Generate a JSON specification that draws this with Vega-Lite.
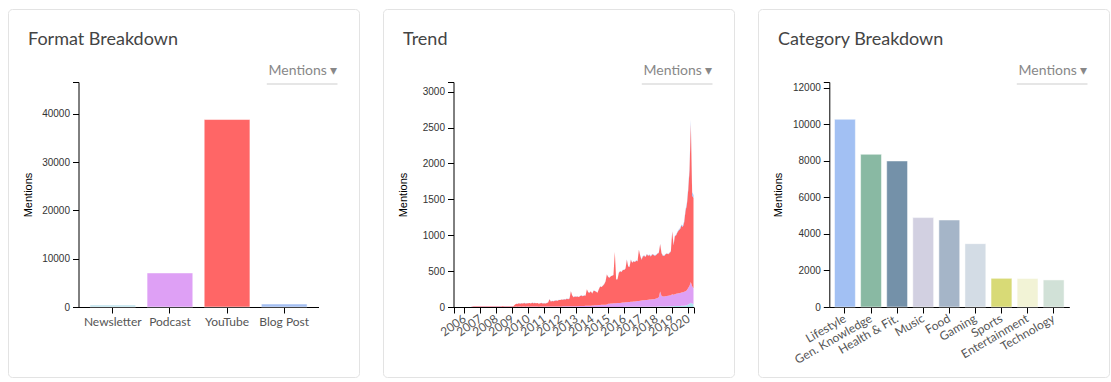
{
  "$schema": "https://vega.github.io/schema/vega-lite/v6.json",
  "padding": {"left": 7, "top": 8, "right": 0, "bottom": 0},
  "spacing": 22,
  "background": "white",
  "resolve": {"scale": {"color": "independent"}},
  "config": {
    "view": {"stroke": "#e3e3e3", "strokeWidth": 1, "cornerRadius": 4},
    "axis": {"grid": false, "domainColor": "#000", "tickColor": "#000", "tickSize": 6, "labelFont": "Liberation Sans", "labelFontSize": 10, "labelColor": "#333", "labelPadding": 3, "titleFont": "Liberation Sans", "titleFontSize": 11, "titleFontWeight": "normal", "titleColor": "#000"},
    "title": {"font": "Lato", "fontSize": 18, "fontWeight": "normal", "color": "#444", "anchor": "start", "frame": "group", "baseline": "alphabetic", "offset": -40, "dx": 20}
  },
  "datasets": {
    "formats": [
      {"format": "Newsletter", "Mentions": 420},
      {"format": "Podcast", "Mentions": 7050},
      {"format": "YouTube", "Mentions": 38830},
      {"format": "Blog Post", "Mentions": 620}
    ],
    "categories": [
      {"category": "Lifestyle", "Mentions": 10270},
      {"category": "Gen. Knowledge", "Mentions": 8355},
      {"category": "Health & Fit.", "Mentions": 7990},
      {"category": "Music", "Mentions": 4890},
      {"category": "Food", "Mentions": 4760},
      {"category": "Gaming", "Mentions": 3465},
      {"category": "Sports", "Mentions": 1570},
      {"category": "Entertainment", "Mentions": 1560},
      {"category": "Technology", "Mentions": 1480}
    ],
    "trend": [
      {"date":"2005-05-01","Newsletter":0,"Podcast":0,"YouTube":0,"Blog Post":0},
      {"date":"2005-06-01","Newsletter":0,"Podcast":0,"YouTube":0,"Blog Post":0},
      {"date":"2005-07-01","Newsletter":0,"Podcast":0,"YouTube":1,"Blog Post":0},
      {"date":"2005-08-01","Newsletter":0,"Podcast":0,"YouTube":0,"Blog Post":0},
      {"date":"2005-09-01","Newsletter":0,"Podcast":0,"YouTube":1,"Blog Post":0},
      {"date":"2005-10-01","Newsletter":0,"Podcast":0,"YouTube":0,"Blog Post":0},
      {"date":"2005-11-01","Newsletter":0,"Podcast":0,"YouTube":0,"Blog Post":0},
      {"date":"2005-12-01","Newsletter":0,"Podcast":0,"YouTube":1,"Blog Post":0},
      {"date":"2006-01-01","Newsletter":0,"Podcast":0,"YouTube":0,"Blog Post":0},
      {"date":"2006-02-01","Newsletter":0,"Podcast":0,"YouTube":1,"Blog Post":0},
      {"date":"2006-03-01","Newsletter":0,"Podcast":0,"YouTube":0,"Blog Post":0},
      {"date":"2006-04-01","Newsletter":0,"Podcast":0,"YouTube":1,"Blog Post":0},
      {"date":"2006-05-01","Newsletter":0,"Podcast":0,"YouTube":1,"Blog Post":0},
      {"date":"2006-06-01","Newsletter":0,"Podcast":0,"YouTube":0,"Blog Post":0},
      {"date":"2006-07-01","Newsletter":0,"Podcast":3,"YouTube":4,"Blog Post":0},
      {"date":"2006-08-01","Newsletter":0,"Podcast":4,"YouTube":5,"Blog Post":1},
      {"date":"2006-09-01","Newsletter":0,"Podcast":3,"YouTube":6,"Blog Post":0},
      {"date":"2006-10-01","Newsletter":0,"Podcast":4,"YouTube":5,"Blog Post":1},
      {"date":"2006-11-01","Newsletter":0,"Podcast":4,"YouTube":6,"Blog Post":0},
      {"date":"2006-12-01","Newsletter":0,"Podcast":5,"YouTube":6,"Blog Post":1},
      {"date":"2007-01-01","Newsletter":0,"Podcast":4,"YouTube":6,"Blog Post":1},
      {"date":"2007-02-01","Newsletter":0,"Podcast":5,"YouTube":7,"Blog Post":1},
      {"date":"2007-03-01","Newsletter":0,"Podcast":4,"YouTube":6,"Blog Post":1},
      {"date":"2007-04-01","Newsletter":0,"Podcast":5,"YouTube":7,"Blog Post":1},
      {"date":"2007-05-01","Newsletter":0,"Podcast":4,"YouTube":6,"Blog Post":1},
      {"date":"2007-06-01","Newsletter":0,"Podcast":5,"YouTube":7,"Blog Post":1},
      {"date":"2007-07-01","Newsletter":0,"Podcast":5,"YouTube":6,"Blog Post":1},
      {"date":"2007-08-01","Newsletter":0,"Podcast":4,"YouTube":7,"Blog Post":1},
      {"date":"2007-09-01","Newsletter":0,"Podcast":5,"YouTube":6,"Blog Post":1},
      {"date":"2007-10-01","Newsletter":0,"Podcast":5,"YouTube":7,"Blog Post":1},
      {"date":"2007-11-01","Newsletter":0,"Podcast":4,"YouTube":6,"Blog Post":1},
      {"date":"2007-12-01","Newsletter":0,"Podcast":5,"YouTube":7,"Blog Post":1},
      {"date":"2008-01-01","Newsletter":0,"Podcast":5,"YouTube":7,"Blog Post":1},
      {"date":"2008-02-01","Newsletter":0,"Podcast":4,"YouTube":6,"Blog Post":1},
      {"date":"2008-03-01","Newsletter":0,"Podcast":5,"YouTube":7,"Blog Post":1},
      {"date":"2008-04-01","Newsletter":0,"Podcast":5,"YouTube":7,"Blog Post":1},
      {"date":"2008-05-01","Newsletter":0,"Podcast":4,"YouTube":6,"Blog Post":1},
      {"date":"2008-06-01","Newsletter":0,"Podcast":5,"YouTube":8,"Blog Post":1},
      {"date":"2008-07-01","Newsletter":0,"Podcast":5,"YouTube":7,"Blog Post":1},
      {"date":"2008-08-01","Newsletter":0,"Podcast":4,"YouTube":6,"Blog Post":1},
      {"date":"2008-09-01","Newsletter":0,"Podcast":5,"YouTube":7,"Blog Post":1},
      {"date":"2008-10-01","Newsletter":0,"Podcast":4,"YouTube":7,"Blog Post":1},
      {"date":"2008-11-01","Newsletter":0,"Podcast":5,"YouTube":6,"Blog Post":1},
      {"date":"2008-12-01","Newsletter":0,"Podcast":5,"YouTube":7,"Blog Post":1},
      {"date":"2009-01-01","Newsletter":0,"Podcast":5,"YouTube":7,"Blog Post":1},
      {"date":"2009-02-01","Newsletter":0,"Podcast":5,"YouTube":8,"Blog Post":1},
      {"date":"2009-03-01","Newsletter":0,"Podcast":5,"YouTube":25,"Blog Post":1},
      {"date":"2009-04-01","Newsletter":0,"Podcast":6,"YouTube":40,"Blog Post":1},
      {"date":"2009-05-01","Newsletter":0,"Podcast":5,"YouTube":38,"Blog Post":2},
      {"date":"2009-06-01","Newsletter":0,"Podcast":6,"YouTube":45,"Blog Post":2},
      {"date":"2009-07-01","Newsletter":0,"Podcast":6,"YouTube":40,"Blog Post":2},
      {"date":"2009-08-01","Newsletter":0,"Podcast":5,"YouTube":48,"Blog Post":2},
      {"date":"2009-09-01","Newsletter":0,"Podcast":6,"YouTube":42,"Blog Post":2},
      {"date":"2009-10-01","Newsletter":0,"Podcast":6,"YouTube":50,"Blog Post":2},
      {"date":"2009-11-01","Newsletter":0,"Podcast":5,"YouTube":44,"Blog Post":2},
      {"date":"2009-12-01","Newsletter":0,"Podcast":6,"YouTube":47,"Blog Post":2},
      {"date":"2010-01-01","Newsletter":0,"Podcast":6,"YouTube":45,"Blog Post":2},
      {"date":"2010-02-01","Newsletter":0,"Podcast":5,"YouTube":50,"Blog Post":2},
      {"date":"2010-03-01","Newsletter":0,"Podcast":6,"YouTube":42,"Blog Post":2},
      {"date":"2010-04-01","Newsletter":0,"Podcast":7,"YouTube":52,"Blog Post":2},
      {"date":"2010-05-01","Newsletter":0,"Podcast":6,"YouTube":46,"Blog Post":2},
      {"date":"2010-06-01","Newsletter":0,"Podcast":6,"YouTube":50,"Blog Post":2},
      {"date":"2010-07-01","Newsletter":0,"Podcast":7,"YouTube":44,"Blog Post":2},
      {"date":"2010-08-01","Newsletter":0,"Podcast":6,"YouTube":48,"Blog Post":2},
      {"date":"2010-09-01","Newsletter":0,"Podcast":5,"YouTube":40,"Blog Post":2},
      {"date":"2010-10-01","Newsletter":0,"Podcast":6,"YouTube":45,"Blog Post":2},
      {"date":"2010-11-01","Newsletter":0,"Podcast":7,"YouTube":50,"Blog Post":2},
      {"date":"2010-12-01","Newsletter":0,"Podcast":6,"YouTube":44,"Blog Post":2},
      {"date":"2011-01-01","Newsletter":0,"Podcast":7,"YouTube":45,"Blog Post":2},
      {"date":"2011-02-01","Newsletter":0,"Podcast":6,"YouTube":42,"Blog Post":2},
      {"date":"2011-03-01","Newsletter":0,"Podcast":7,"YouTube":50,"Blog Post":2},
      {"date":"2011-04-01","Newsletter":0,"Podcast":7,"YouTube":55,"Blog Post":2},
      {"date":"2011-05-01","Newsletter":0,"Podcast":8,"YouTube":100,"Blog Post":2},
      {"date":"2011-06-01","Newsletter":0,"Podcast":7,"YouTube":70,"Blog Post":2},
      {"date":"2011-07-01","Newsletter":0,"Podcast":7,"YouTube":78,"Blog Post":2},
      {"date":"2011-08-01","Newsletter":0,"Podcast":8,"YouTube":72,"Blog Post":2},
      {"date":"2011-09-01","Newsletter":0,"Podcast":7,"YouTube":80,"Blog Post":2},
      {"date":"2011-10-01","Newsletter":0,"Podcast":7,"YouTube":85,"Blog Post":2},
      {"date":"2011-11-01","Newsletter":0,"Podcast":8,"YouTube":78,"Blog Post":2},
      {"date":"2011-12-01","Newsletter":0,"Podcast":8,"YouTube":90,"Blog Post":2},
      {"date":"2012-01-01","Newsletter":0,"Podcast":8,"YouTube":88,"Blog Post":3},
      {"date":"2012-02-01","Newsletter":0,"Podcast":8,"YouTube":95,"Blog Post":3},
      {"date":"2012-03-01","Newsletter":0,"Podcast":9,"YouTube":92,"Blog Post":3},
      {"date":"2012-04-01","Newsletter":0,"Podcast":9,"YouTube":100,"Blog Post":3},
      {"date":"2012-05-01","Newsletter":0,"Podcast":9,"YouTube":95,"Blog Post":3},
      {"date":"2012-06-01","Newsletter":0,"Podcast":10,"YouTube":105,"Blog Post":3},
      {"date":"2012-07-01","Newsletter":0,"Podcast":10,"YouTube":98,"Blog Post":3},
      {"date":"2012-08-01","Newsletter":0,"Podcast":10,"YouTube":110,"Blog Post":3},
      {"date":"2012-09-01","Newsletter":0,"Podcast":11,"YouTube":210,"Blog Post":3},
      {"date":"2012-10-01","Newsletter":0,"Podcast":11,"YouTube":150,"Blog Post":3},
      {"date":"2012-11-01","Newsletter":0,"Podcast":11,"YouTube":125,"Blog Post":3},
      {"date":"2012-12-01","Newsletter":0,"Podcast":12,"YouTube":135,"Blog Post":3},
      {"date":"2013-01-01","Newsletter":0,"Podcast":12,"YouTube":130,"Blog Post":3},
      {"date":"2013-02-01","Newsletter":0,"Podcast":12,"YouTube":135,"Blog Post":3},
      {"date":"2013-03-01","Newsletter":0,"Podcast":13,"YouTube":125,"Blog Post":3},
      {"date":"2013-04-01","Newsletter":0,"Podcast":14,"YouTube":140,"Blog Post":3},
      {"date":"2013-05-01","Newsletter":0,"Podcast":14,"YouTube":145,"Blog Post":3},
      {"date":"2013-06-01","Newsletter":0,"Podcast":15,"YouTube":135,"Blog Post":3},
      {"date":"2013-07-01","Newsletter":0,"Podcast":15,"YouTube":145,"Blog Post":3},
      {"date":"2013-08-01","Newsletter":0,"Podcast":16,"YouTube":140,"Blog Post":3},
      {"date":"2013-09-01","Newsletter":0,"Podcast":16,"YouTube":230,"Blog Post":3},
      {"date":"2013-10-01","Newsletter":0,"Podcast":17,"YouTube":190,"Blog Post":3},
      {"date":"2013-11-01","Newsletter":0,"Podcast":18,"YouTube":180,"Blog Post":3},
      {"date":"2013-12-01","Newsletter":0,"Podcast":18,"YouTube":200,"Blog Post":3},
      {"date":"2014-01-01","Newsletter":0,"Podcast":20,"YouTube":167,"Blog Post":3},
      {"date":"2014-02-01","Newsletter":0,"Podcast":22,"YouTube":205,"Blog Post":3},
      {"date":"2014-03-01","Newsletter":0,"Podcast":24,"YouTube":198,"Blog Post":3},
      {"date":"2014-04-01","Newsletter":0,"Podcast":25,"YouTube":187,"Blog Post":3},
      {"date":"2014-05-01","Newsletter":0,"Podcast":26,"YouTube":171,"Blog Post":3},
      {"date":"2014-06-01","Newsletter":0,"Podcast":27,"YouTube":220,"Blog Post":3},
      {"date":"2014-07-01","Newsletter":0,"Podcast":28,"YouTube":259,"Blog Post":3},
      {"date":"2014-08-01","Newsletter":0,"Podcast":30,"YouTube":247,"Blog Post":3},
      {"date":"2014-09-01","Newsletter":0,"Podcast":30,"YouTube":267,"Blog Post":3},
      {"date":"2014-10-01","Newsletter":0,"Podcast":32,"YouTube":285,"Blog Post":3},
      {"date":"2014-11-01","Newsletter":0,"Podcast":33,"YouTube":324,"Blog Post":3},
      {"date":"2014-12-01","Newsletter":0,"Podcast":35,"YouTube":417,"Blog Post":3},
      {"date":"2015-01-01","Newsletter":1,"Podcast":45,"YouTube":371,"Blog Post":3},
      {"date":"2015-02-01","Newsletter":1,"Podcast":46,"YouTube":360,"Blog Post":3},
      {"date":"2015-03-01","Newsletter":1,"Podcast":48,"YouTube":378,"Blog Post":3},
      {"date":"2015-04-01","Newsletter":1,"Podcast":48,"YouTube":388,"Blog Post":3},
      {"date":"2015-05-01","Newsletter":1,"Podcast":50,"YouTube":396,"Blog Post":3},
      {"date":"2015-06-01","Newsletter":1,"Podcast":50,"YouTube":716,"Blog Post":3},
      {"date":"2015-07-01","Newsletter":1,"Podcast":52,"YouTube":329,"Blog Post":3},
      {"date":"2015-08-01","Newsletter":1,"Podcast":53,"YouTube":333,"Blog Post":3},
      {"date":"2015-09-01","Newsletter":1,"Podcast":55,"YouTube":421,"Blog Post":3},
      {"date":"2015-10-01","Newsletter":1,"Podcast":56,"YouTube":440,"Blog Post":3},
      {"date":"2015-11-01","Newsletter":1,"Podcast":58,"YouTube":428,"Blog Post":3},
      {"date":"2015-12-01","Newsletter":1,"Podcast":60,"YouTube":456,"Blog Post":3},
      {"date":"2016-01-01","Newsletter":2,"Podcast":62,"YouTube":452,"Blog Post":4},
      {"date":"2016-02-01","Newsletter":2,"Podcast":64,"YouTube":470,"Blog Post":4},
      {"date":"2016-03-01","Newsletter":2,"Podcast":65,"YouTube":593,"Blog Post":4},
      {"date":"2016-04-01","Newsletter":2,"Podcast":66,"YouTube":498,"Blog Post":4},
      {"date":"2016-05-01","Newsletter":2,"Podcast":68,"YouTube":486,"Blog Post":4},
      {"date":"2016-06-01","Newsletter":2,"Podcast":70,"YouTube":588,"Blog Post":4},
      {"date":"2016-07-01","Newsletter":2,"Podcast":72,"YouTube":542,"Blog Post":4},
      {"date":"2016-08-01","Newsletter":2,"Podcast":74,"YouTube":560,"Blog Post":4},
      {"date":"2016-09-01","Newsletter":2,"Podcast":75,"YouTube":549,"Blog Post":4},
      {"date":"2016-10-01","Newsletter":2,"Podcast":77,"YouTube":567,"Blog Post":4},
      {"date":"2016-11-01","Newsletter":2,"Podcast":80,"YouTube":554,"Blog Post":4},
      {"date":"2016-12-01","Newsletter":2,"Podcast":82,"YouTube":712,"Blog Post":4},
      {"date":"2017-01-01","Newsletter":3,"Podcast":85,"YouTube":627,"Blog Post":5},
      {"date":"2017-02-01","Newsletter":3,"Podcast":88,"YouTube":569,"Blog Post":5},
      {"date":"2017-03-01","Newsletter":3,"Podcast":90,"YouTube":612,"Blog Post":5},
      {"date":"2017-04-01","Newsletter":3,"Podcast":92,"YouTube":620,"Blog Post":5},
      {"date":"2017-05-01","Newsletter":3,"Podcast":94,"YouTube":598,"Blog Post":5},
      {"date":"2017-06-01","Newsletter":3,"Podcast":96,"YouTube":636,"Blog Post":5},
      {"date":"2017-07-01","Newsletter":3,"Podcast":98,"YouTube":614,"Blog Post":5},
      {"date":"2017-08-01","Newsletter":3,"Podcast":100,"YouTube":622,"Blog Post":5},
      {"date":"2017-09-01","Newsletter":3,"Podcast":102,"YouTube":600,"Blog Post":5},
      {"date":"2017-10-01","Newsletter":3,"Podcast":104,"YouTube":628,"Blog Post":5},
      {"date":"2017-11-01","Newsletter":3,"Podcast":106,"YouTube":616,"Blog Post":5},
      {"date":"2017-12-01","Newsletter":3,"Podcast":110,"YouTube":602,"Blog Post":5},
      {"date":"2018-01-01","Newsletter":5,"Podcast":115,"YouTube":604,"Blog Post":6},
      {"date":"2018-02-01","Newsletter":6,"Podcast":120,"YouTube":618,"Blog Post":6},
      {"date":"2018-03-01","Newsletter":6,"Podcast":130,"YouTube":618,"Blog Post":6},
      {"date":"2018-04-01","Newsletter":10,"Podcast":205,"YouTube":661,"Blog Post":6},
      {"date":"2018-05-01","Newsletter":8,"Podcast":150,"YouTube":596,"Blog Post":6},
      {"date":"2018-06-01","Newsletter":7,"Podcast":140,"YouTube":567,"Blog Post":6},
      {"date":"2018-07-01","Newsletter":7,"Podcast":138,"YouTube":567,"Blog Post":6},
      {"date":"2018-08-01","Newsletter":8,"Podcast":142,"YouTube":584,"Blog Post":6},
      {"date":"2018-09-01","Newsletter":8,"Podcast":145,"YouTube":591,"Blog Post":6},
      {"date":"2018-10-01","Newsletter":9,"Podcast":148,"YouTube":577,"Blog Post":6},
      {"date":"2018-11-01","Newsletter":9,"Podcast":150,"YouTube":595,"Blog Post":6},
      {"date":"2018-12-01","Newsletter":10,"Podcast":155,"YouTube":609,"Blog Post":6},
      {"date":"2019-01-01","Newsletter":12,"Podcast":165,"YouTube":875,"Blog Post":8},
      {"date":"2019-02-01","Newsletter":12,"Podcast":160,"YouTube":690,"Blog Post":8},
      {"date":"2019-03-01","Newsletter":13,"Podcast":165,"YouTube":803,"Blog Post":9},
      {"date":"2019-04-01","Newsletter":14,"Podcast":170,"YouTube":816,"Blog Post":10},
      {"date":"2019-05-01","Newsletter":14,"Podcast":175,"YouTube":851,"Blog Post":10},
      {"date":"2019-06-01","Newsletter":15,"Podcast":175,"YouTube":879,"Blog Post":11},
      {"date":"2019-07-01","Newsletter":15,"Podcast":180,"YouTube":893,"Blog Post":12},
      {"date":"2019-08-01","Newsletter":16,"Podcast":185,"YouTube":935,"Blog Post":14},
      {"date":"2019-09-01","Newsletter":17,"Podcast":190,"YouTube":908,"Blog Post":15},
      {"date":"2019-10-01","Newsletter":18,"Podcast":195,"YouTube":969,"Blog Post":18},
      {"date":"2019-11-01","Newsletter":20,"Podcast":200,"YouTube":1118,"Blog Post":22},
      {"date":"2019-12-01","Newsletter":25,"Podcast":210,"YouTube":1187,"Blog Post":28},
      {"date":"2020-01-01","Newsletter":35,"Podcast":230,"YouTube":1362,"Blog Post":35},
      {"date":"2020-02-01","Newsletter":45,"Podcast":250,"YouTube":1615,"Blog Post":40},
      {"date":"2020-03-01","Newsletter":60,"Podcast":290,"YouTube":2200,"Blog Post":60},
      {"date":"2020-04-01","Newsletter":50,"Podcast":240,"YouTube":1265,"Blog Post":45},
      {"date":"2020-05-01","Newsletter":40,"Podcast":220,"YouTube":1260,"Blog Post":40}
    ]
  },
  "hconcat": [
    {
      "width": 351,
      "height": 368,
      "title": "Format Breakdown",
      "data": {"name": "formats"},
      "layer": [
        {
          "mark": {"type": "bar", "stroke": "#ffffff", "strokeOpacity": 0.5, "strokeWidth": 1},
          "encoding": {
            "x": {"field": "format", "type": "nominal", "sort": null,
                  "scale": {"range": [70.5, 310.5], "padding": 0.2},
                  "axis": {"orient": "bottom", "offset": -70, "title": null, "labelAngle": 0, "labelFont": "Lato", "labelFontSize": 12, "labelColor": "#555", "labelPadding": 3}},
            "y": {"field": "Mentions", "type": "quantitative",
                  "scale": {"domain": [0, 46600], "range": [298, 73], "nice": false, "zero": true},
                  "axis": {"orient": "left", "offset": -70.5, "values": [0, 10000, 20000, 30000, 40000, 46600], "labelExpr": "datum.value > 45000 ? '' : datum.label", "format": "d", "title": "Mentions", "titlePadding": 8.5}},
            "color": {"field": "format", "type": "nominal",
                      "scale": {"domain": ["Newsletter", "Podcast", "YouTube", "Blog Post"], "range": ["#bfe4ee", "#dea0f5", "#ff6666", "#a4bff2"]},
                      "legend": null}
          }
        },
        {
          "mark": {"type": "point", "opacity": 0},
          "encoding": {
            "x": {"datum": 0.5, "type": "quantitative",
                  "scale": {"domain": [0, 1], "range": [258.3, 329]},
                  "axis": {"orient": "top", "offset": -74.4, "domain": true, "domainColor": "#dedede", "domainWidth": 1.5, "ticks": false, "labels": false, "grid": false, "title": "Mentions ▾", "titleFont": "Lato", "titleFontSize": 14, "titleColor": "#888", "titleAnchor": "end", "titleAlign": "right", "titleBaseline": "alphabetic", "titlePadding": 8.5}}
          }
        }
      ],
      "resolve": {"scale": {"x": "independent"}, "axis": {"x": "independent"}}
    },
    {
      "width": 351,
      "height": 368,
      "title": "Trend",
      "data": {"name": "trend"},
      "layer": [
        {
          "transform": [
            {"fold": ["Newsletter", "Podcast", "YouTube", "Blog Post"], "as": ["format", "mentions"]},
            {"window": [{"op": "row_number", "as": "stackRank"}], "groupby": ["date"]}
          ],
          "mark": {"type": "area", "interpolate": "linear"},
          "encoding": {
            "x": {"field": "date", "type": "temporal",
                  "scale": {"range": [70.5, 310.5]},
                  "axis": {"orient": "bottom", "offset": -70, "title": null, "format": "%Y",
                           "values": [
                             {"year": 2005, "month": 5, "date": 1},
                             {"year": 2006, "month": 1, "date": 1}, {"year": 2007, "month": 1, "date": 1}, {"year": 2008, "month": 1, "date": 1},
                             {"year": 2009, "month": 1, "date": 1}, {"year": 2010, "month": 1, "date": 1}, {"year": 2011, "month": 1, "date": 1},
                             {"year": 2012, "month": 1, "date": 1}, {"year": 2013, "month": 1, "date": 1}, {"year": 2014, "month": 1, "date": 1},
                             {"year": 2015, "month": 1, "date": 1}, {"year": 2016, "month": 1, "date": 1}, {"year": 2017, "month": 1, "date": 1},
                             {"year": 2018, "month": 1, "date": 1}, {"year": 2019, "month": 1, "date": 1}, {"year": 2020, "month": 1, "date": 1},
                             {"year": 2020, "month": 5, "date": 1}
                           ],
                           "labelExpr": "month(datum.value) == 0 ? datum.label : ''",
                           "labelAngle": -35, "labelAlign": "right", "labelBaseline": "middle", "labelFont": "Lato", "labelFontSize": 12, "labelColor": "#555", "labelPadding": 4, "labelOverlap": false}},
            "y": {"field": "mentions", "type": "quantitative", "stack": "zero",
                  "scale": {"domain": [0, 3135], "range": [298, 73], "nice": false},
                  "axis": {"orient": "left", "offset": -70.5, "values": [0, 500, 1000, 1500, 2000, 2500, 3000, 3135], "labelExpr": "datum.value > 3100 ? '' : datum.label", "format": "d", "title": "Mentions", "titlePadding": 14}},
            "color": {"field": "format", "type": "nominal",
                      "scale": {"domain": ["Newsletter", "Podcast", "YouTube", "Blog Post"], "range": ["#ade3ee", "#dea0f5", "#ff6666", "#a4bff2"]},
                      "legend": null},
            "order": {"field": "stackRank", "type": "quantitative", "sort": "ascending"}
          }
        },
        {
          "mark": {"type": "point", "opacity": 0},
          "encoding": {
            "x": {"datum": 0.5, "type": "quantitative",
                  "scale": {"domain": [0, 1], "range": [258.3, 329]},
                  "axis": {"orient": "top", "offset": -74.4, "domain": true, "domainColor": "#dedede", "domainWidth": 1.5, "ticks": false, "labels": false, "grid": false, "title": "Mentions ▾", "titleFont": "Lato", "titleFontSize": 14, "titleColor": "#888", "titleAnchor": "end", "titleAlign": "right", "titleBaseline": "alphabetic", "titlePadding": 8.5}}
          }
        }
      ],
      "resolve": {"scale": {"x": "independent"}, "axis": {"x": "independent"}}
    },
    {
      "width": 351,
      "height": 368,
      "title": "Category Breakdown",
      "data": {"name": "categories"},
      "layer": [
        {
          "mark": {"type": "bar", "stroke": "#ffffff", "strokeOpacity": 0.5, "strokeWidth": 1},
          "encoding": {
            "x": {"field": "category", "type": "nominal", "sort": null,
                  "scale": {"range": [71.3, 311.3], "padding": 0.2},
                  "axis": {"orient": "bottom", "offset": -70, "title": null, "labelAngle": -30, "labelAlign": "right", "labelBaseline": "middle", "labelFont": "Lato", "labelFontSize": 12, "labelColor": "#555", "labelPadding": 4}},
            "y": {"field": "Mentions", "type": "quantitative",
                  "scale": {"domain": [0, 12310], "range": [298, 73], "nice": false},
                  "axis": {"orient": "left", "offset": -71.3, "values": [0, 2000, 4000, 6000, 8000, 10000, 12000, 12310], "labelExpr": "datum.value > 12100 ? '' : datum.label", "format": "d", "title": "Mentions", "titlePadding": 8.5}},
            "color": {"field": "category", "type": "nominal",
                      "scale": {"domain": ["Lifestyle", "Gen. Knowledge", "Health & Fit.", "Music", "Food", "Gaming", "Sports", "Entertainment", "Technology"],
                                "range": ["#a2c0f3", "#89b9a3", "#7491a9", "#d2d0e1", "#a5b5c8", "#d3dce5", "#d8da76", "#f2f3d6", "#d1e1d7"]},
                      "legend": null}
          }
        },
        {
          "mark": {"type": "point", "opacity": 0},
          "encoding": {
            "x": {"datum": 0.5, "type": "quantitative",
                  "scale": {"domain": [0, 1], "range": [258.3, 329]},
                  "axis": {"orient": "top", "offset": -74.4, "domain": true, "domainColor": "#dedede", "domainWidth": 1.5, "ticks": false, "labels": false, "grid": false, "title": "Mentions ▾", "titleFont": "Lato", "titleFontSize": 14, "titleColor": "#888", "titleAnchor": "end", "titleAlign": "right", "titleBaseline": "alphabetic", "titlePadding": 8.5}}
          }
        }
      ],
      "resolve": {"scale": {"x": "independent"}, "axis": {"x": "independent"}}
    }
  ]
}
